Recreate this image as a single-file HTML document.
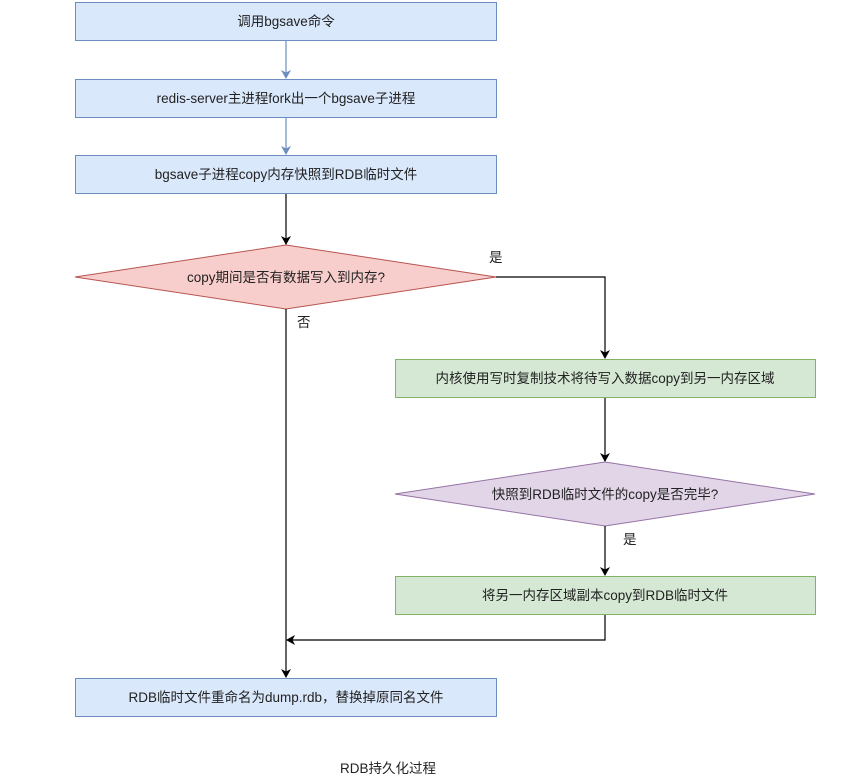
<!DOCTYPE html>
<html><head><meta charset="utf-8"><style>
html,body{margin:0;padding:0;background:#fff;}
svg text{font-family:"Liberation Sans","Noto Sans CJK SC",sans-serif;font-size:13.5px;fill:#222;}
</style></head><body>
<svg width="847" height="778" viewBox="0 0 847 778" xmlns="http://www.w3.org/2000/svg">
<defs>
<marker id="ab" markerWidth="12" markerHeight="12" refX="8" refY="5" orient="auto" markerUnits="userSpaceOnUse"><path d="M0,0 L9,5 L0,10 L2.5,5 z" fill="#6c8ebf"/></marker>
<marker id="ak" markerWidth="12" markerHeight="12" refX="8" refY="5" orient="auto" markerUnits="userSpaceOnUse"><path d="M0,0 L9,5 L0,10 L2.5,5 z" fill="#000"/></marker>
</defs>
<g stroke-width="1">
<rect x="75.5" y="2.5" width="421" height="38" fill="#dae8fc" stroke="#6c8ebf"/>
<rect x="75.5" y="79.5" width="421" height="38" fill="#dae8fc" stroke="#6c8ebf"/>
<rect x="75.5" y="155.5" width="421" height="38" fill="#dae8fc" stroke="#6c8ebf"/>
<polygon points="286,245 496,277 286,309 75,277" fill="#f8cecc" stroke="#b85450"/>
<rect x="395.5" y="359.5" width="420" height="38" fill="#d5e8d4" stroke="#82b366"/>
<polygon points="605,462 815,494 605,526 395,494" fill="#e1d5e7" stroke="#9673a6"/>
<rect x="395.5" y="576.5" width="420" height="38" fill="#d5e8d4" stroke="#82b366"/>
<rect x="75.5" y="678.5" width="421" height="38" fill="#dae8fc" stroke="#6c8ebf"/>
</g>
<g fill="none" stroke-width="1.2">
<line x1="286" y1="41" x2="286" y2="78" stroke="#6c8ebf" marker-end="url(#ab)"/>
<line x1="286" y1="118" x2="286" y2="154" stroke="#6c8ebf" marker-end="url(#ab)"/>
<line x1="286" y1="194" x2="286" y2="244" stroke="#000" marker-end="url(#ak)"/>
<polyline points="496,277 605,277 605,358" stroke="#000" marker-end="url(#ak)"/>
<line x1="605" y1="398" x2="605" y2="461" stroke="#000" marker-end="url(#ak)"/>
<line x1="605" y1="526" x2="605" y2="575" stroke="#000" marker-end="url(#ak)"/>
<polyline points="605,615 605,640 287,640" stroke="#000" marker-end="url(#ak)"/>
<line x1="286" y1="309" x2="286" y2="677" stroke="#000" marker-end="url(#ak)"/>
</g>
<g text-anchor="middle">
<text x="286" y="26">调用bgsave命令</text>
<text x="286" y="103">redis-server主进程fork出一个bgsave子进程</text>
<text x="286" y="179">bgsave子进程copy内存快照到RDB临时文件</text>
<text x="286" y="282">copy期间是否有数据写入到内存?</text>
<text x="605" y="383">内核使用写时复制技术将待写入数据copy到另一内存区域</text>
<text x="605" y="499">快照到RDB临时文件的copy是否完毕?</text>
<text x="605" y="600">将另一内存区域副本copy到RDB临时文件</text>
<text x="286" y="702">RDB临时文件重命名为dump.rdb，替换掉原同名文件</text>
<text x="388" y="773">RDB持久化过程</text>
</g>
<text x="489" y="262">是</text>
<text x="297" y="327">否</text>
<text x="623" y="544">是</text>
</svg>
</body></html>
